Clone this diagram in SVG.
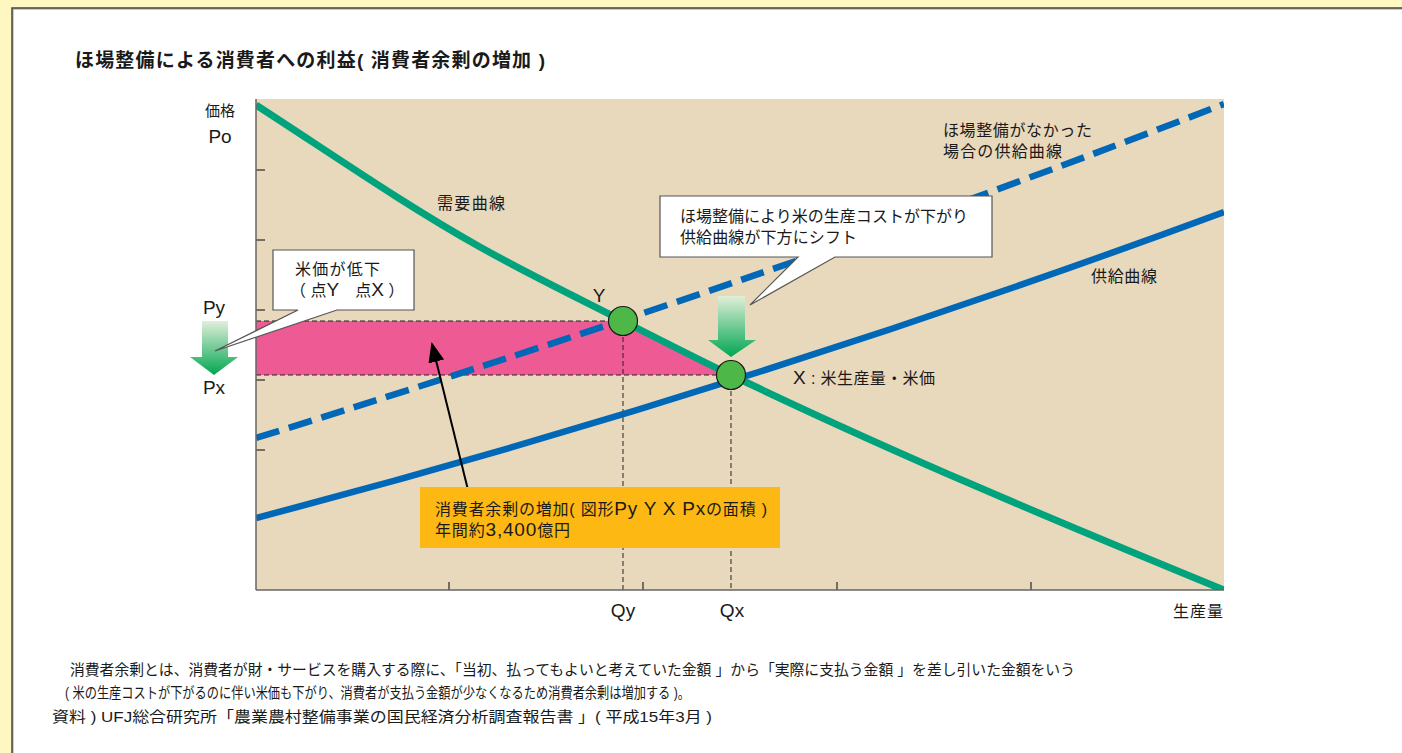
<svg xmlns="http://www.w3.org/2000/svg" width="1402" height="753" viewBox="0 0 1402 753">
<style>
text{font-family:"Liberation Sans","Noto Sans CJK JP",sans-serif;fill:#1a1a1a}
.j{font-size:16px}
.l{font-size:19px}
.f{font-size:15px}
.tick{stroke:#333;stroke-width:1.3}
.guide{stroke:#222;stroke-width:1;stroke-dasharray:5 3;fill:none}
.pt{fill:#4DB848;stroke:#1a1a1a;stroke-width:1.2}
.call{fill:#fff;stroke:#555;stroke-width:1.2}
</style>
<defs>
<linearGradient id="ga" x1="0" y1="0" x2="0" y2="1">
<stop offset="0" stop-color="#E2EFD9"/>
<stop offset="1" stop-color="#00A651"/>
</linearGradient>
<clipPath id="plot"><rect x="256" y="99" width="968" height="491"/></clipPath>
<marker id="ahb" viewBox="0 0 20 20" refX="18" refY="10" markerWidth="20" markerHeight="20" markerUnits="userSpaceOnUse" orient="auto">
<path d="M0,2 L20,10 L0,18 z" fill="#000"/>
</marker>
</defs>
<rect width="1402" height="753" fill="#FFF7C2"/>
<rect x="13" y="9" width="1400" height="760" fill="#fff" stroke="#999" stroke-width="1"/>
<path d="M12,753 V8 H1402" fill="none" stroke="#444" stroke-width="1.5"/>
<text id="title" x="75" y="67" style="font-size:19px;font-weight:bold" textLength="470">ほ場整備による消費者への利益( 消費者余剰の増加 )</text>

<g id="plot-area">
<rect x="256" y="99" width="968" height="491" fill="#E8D8BC"/>
<polygon points="256,321 623,321 659,339.4 695,357.7 731,375 256,375" fill="#EE5A93"/>
</g>
<g id="connectors">
<line class="guide" x1="256" y1="321" x2="623" y2="321"/>
<line class="guide" x1="256" y1="375" x2="731" y2="375"/>
<line class="guide" x1="623" y1="321" x2="623" y2="590"/>
<line class="guide" x1="731" y1="375" x2="731" y2="590"/>
<g id="ticks">
<line class="tick" x1="256" y1="170" x2="265" y2="170"/>
<line class="tick" x1="256" y1="240" x2="265" y2="240"/>
<line class="tick" x1="256" y1="310" x2="265" y2="310"/>
<line class="tick" x1="256" y1="380" x2="265" y2="380"/>
<line class="tick" x1="256" y1="450" x2="265" y2="450"/>
<line class="tick" x1="449" y1="590" x2="449" y2="582"/>
<line class="tick" x1="643" y1="590" x2="643" y2="582"/>
<line class="tick" x1="837" y1="590" x2="837" y2="582"/>
<line class="tick" x1="1031" y1="590" x2="1031" y2="582"/>
</g>
<g clip-path="url(#plot)">
<path id="supply-old" d="M256,438 Q800,269 1224,104" fill="none" stroke="#0068B6" stroke-width="6.5" stroke-dasharray="24 10"/>
<path id="supply" d="M256,518 Q740,391 1224,212" fill="none" stroke="#0068B6" stroke-width="6.5"/>
<path id="demand" d="M256,105 C330.7,153.3 405.3,205.2 480,247 C527.7,273.7 575.3,296.7 623,321 C659,339.4 695,357.7 731,375 C895.3,453.9 1059.7,522.6 1224,590" fill="none" stroke="#00A37B" stroke-width="7"/>
</g>
<line x1="468" y1="490" x2="432" y2="344" stroke="#000" stroke-width="2" marker-end="url(#ahb)"/>
</g>
<line x1="256" y1="99" x2="256" y2="590" stroke="#666" stroke-width="1.5"/>
<line x1="256" y1="590" x2="1224" y2="590" stroke="#666" stroke-width="1.5"/>

<g id="pointY"><circle class="pt" cx="623" cy="321" r="14.5"/></g>
<g id="pointX"><circle class="pt" cx="731" cy="375" r="14.5"/></g>

<g id="arrow-left"><polygon points="202,321 228,321 228,357 238,357 214,375 190,357 202,357" fill="url(#ga)"/></g>
<g id="arrow-mid"><polygon points="718,296 745,296 745,340 756,340 731,357 708,340 718,340" fill="url(#ga)"/></g>

<g id="callout1">
<path class="call" d="M273,250 H414 V310 H337 L215,351 L298,310 H273 Z"/>
<text class="j" x="295" y="275" textLength="85">米価が低下</text>
<text class="j" x="290" y="296" xml:space="preserve">（ 点<tspan class="l">Y</tspan>　点<tspan class="l">X</tspan> ）</text>
</g>
<g id="callout2">
<path class="call" d="M660,196 H992 V257 H835 L750,305 L798,257 H660 Z"/>
<text class="j" x="680" y="222" textLength="288">ほ場整備により米の生産コストが下がり</text>
<text class="j" x="680" y="243" textLength="177">供給曲線が下方にシフト</text>
</g>
<g id="summary">
<rect x="420" y="487" width="360" height="61" fill="#FDB813"/>
<text class="j" x="435" y="515" textLength="332">消費者余剰の増加( 図形<tspan class="l">Py Y X Px</tspan>の面積 )</text>
<text class="j" x="435" y="536" textLength="135">年間約<tspan class="l">3,400</tspan>億円</text>
</g>

<g id="labels">
<text x="220" y="116" text-anchor="middle" style="font-size:15px">価格</text>
<text class="l" x="220" y="143" text-anchor="middle">Po</text>
<text class="l" x="214" y="314" text-anchor="middle">Py</text>
<text class="l" x="214" y="394" text-anchor="middle">Px</text>
<text class="l" x="599" y="302" text-anchor="middle">Y</text>
<text class="j" x="437" y="209" textLength="68">需要曲線</text>
<text class="j" x="943" y="136" textLength="149">ほ場整備がなかった</text>
<text class="j" x="943" y="157" textLength="119">場合の供給曲線</text>
<text class="j" x="1091" y="282" textLength="66">供給曲線</text>
<text class="j" x="793" y="384" textLength="142"><tspan class="l">X</tspan> : 米生産量・米価</text>
<text class="l" x="623" y="617" text-anchor="middle">Qy</text>
<text class="l" x="732" y="617" text-anchor="middle">Qx</text>
<text class="j" x="1173" y="617" textLength="50">生産量</text>
</g>
<g id="footer">
<text class="f" x="70" y="675" textLength="1005" lengthAdjust="spacingAndGlyphs">消費者余剰とは、消費者が財・サービスを購入する際に、「当初、払ってもよいと考えていた金額 」から「実際に支払う金額 」を差し引いた金額をいう</text>
<text class="f" x="65" y="698" textLength="625" lengthAdjust="spacingAndGlyphs">( 米の生産コストが下がるのに伴い米価も下がり、消費者が支払う金額が少なくなるため消費者余剰は増加する )。</text>
<text class="f" x="52" y="722" textLength="660" lengthAdjust="spacingAndGlyphs">資料 ) UFJ総合研究所「農業農村整備事業の国民経済分析調査報告書 」( 平成15年3月 )</text>
</g>
</svg>
